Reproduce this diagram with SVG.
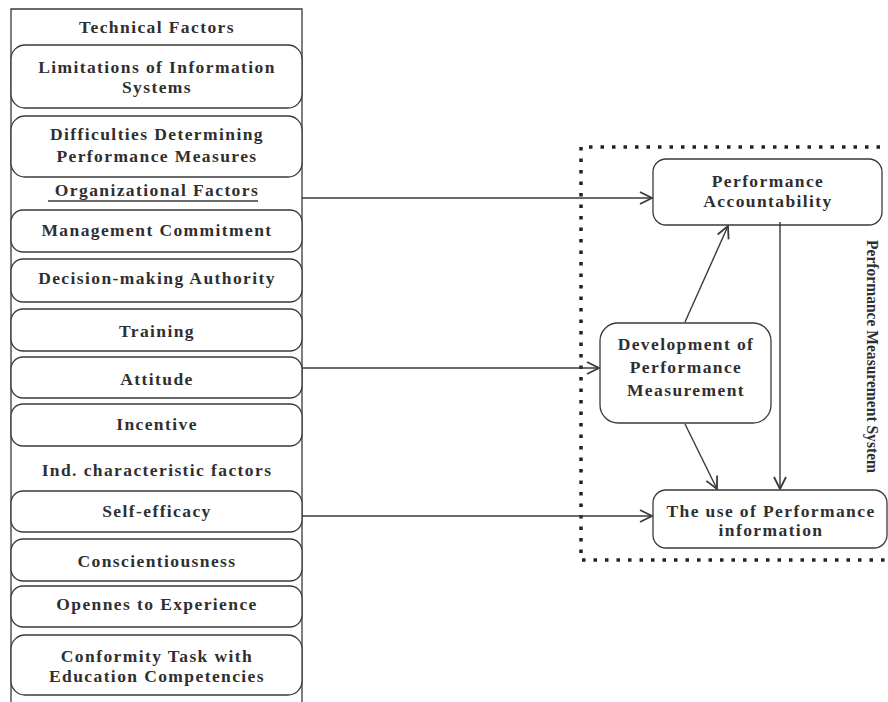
<svg xmlns="http://www.w3.org/2000/svg" width="888" height="702" viewBox="0 0 888 702">
<defs>
<marker id="arr" viewBox="0 0 14 14" refX="13" refY="7" markerWidth="14" markerHeight="14" markerUnits="userSpaceOnUse" orient="auto">
<path d="M1,1 L13,7 L1,13" fill="none" stroke="#3a3a3a" stroke-width="1.8"/>
</marker>
<style>
.box{fill:#fff;stroke:#3a3a3a;stroke-width:1.3}
.t{font-family:"Liberation Serif","Times New Roman",serif;font-weight:bold;font-size:17.5px;fill:#2f2f2f;text-anchor:middle;letter-spacing:1.4px}
.edge{stroke:#3a3a3a;stroke-width:1.4;fill:none;marker-end:url(#arr)}
.dots{stroke:#222;stroke-width:3.5;stroke-dasharray:3.5 8;fill:none}
</style>
</defs>
<rect x="0" y="0" width="888" height="702" fill="#fff"/>

<g id="left-panel">
<path d="M11,702 L11,9 L302,9 L302,702" fill="none" stroke="#3a3a3a" stroke-width="1.3"/>
<text class="t" x="157" y="33">Technical Factors</text>
</g>
<g id="n-limitations"><rect class="box" x="11" y="45" width="291" height="63" rx="14"/><text class="t" x="157" y="73">Limitations of Information</text><text class="t" x="157" y="93">Systems</text></g>
<g id="n-difficulties"><rect class="box" x="11" y="116" width="291" height="61" rx="14"/><text class="t" x="157" y="140">Difficulties Determining</text><text class="t" x="157" y="162">Performance Measures</text></g>
<g id="h-org"><text class="t" x="157" y="196">Organizational Factors</text><line x1="48" y1="201" x2="258" y2="201" stroke="#3a3a3a" stroke-width="1.3"/></g>
<g id="n-mgmt"><rect class="box" x="11" y="210" width="291" height="42" rx="12"/><text class="t" x="157" y="236">Management Commitment</text></g>
<g id="n-decision"><rect class="box" x="11" y="259" width="291" height="43" rx="12"/><text class="t" x="157" y="284">Decision-making Authority</text></g>
<g id="n-training"><rect class="box" x="11" y="309" width="291" height="42" rx="12"/><text class="t" x="157" y="337">Training</text></g>
<g id="n-attitude"><rect class="box" x="11" y="357" width="291" height="41" rx="12"/><text class="t" x="157" y="385">Attitude</text></g>
<g id="n-incentive"><rect class="box" x="11" y="404" width="291" height="42" rx="12"/><text class="t" x="157" y="430">Incentive</text></g>
<g id="h-ind"><text class="t" x="157" y="476">Ind. characteristic factors</text></g>
<g id="n-selfefficacy"><rect class="box" x="11" y="491" width="291" height="41" rx="12"/><text class="t" x="157" y="517">Self-efficacy</text></g>
<g id="n-conscientiousness"><rect class="box" x="11" y="539" width="291" height="42" rx="12"/><text class="t" x="157" y="567">Conscientiousness</text></g>
<g id="n-openness"><rect class="box" x="11" y="586" width="291" height="41" rx="12"/><text class="t" x="157" y="610">Opennes to Experience</text></g>
<g id="n-conformity"><rect class="box" x="11" y="635" width="291" height="60" rx="14"/><text class="t" x="157" y="662">Conformity Task with</text><text class="t" x="157" y="682">Education Competencies</text></g>

<g id="pms-frame">
<path class="dots" d="M880,147 L581,147 L581,560 L886,560"/>
<text x="0" y="0" transform="translate(867,240) rotate(90)" font-family="'Liberation Serif','Times New Roman',serif" font-weight="bold" font-size="16" fill="#2f2f2f" textLength="233" lengthAdjust="spacingAndGlyphs">Performance Measurement System</text>
</g>
<g id="n-accountability"><rect class="box" x="653" y="159" width="229" height="66" rx="13"/><text class="t" x="768" y="187">Performance</text><text class="t" x="768" y="207">Accountability</text></g>
<g id="n-development"><rect class="box" x="600" y="323" width="171" height="100" rx="18"/><text class="t" x="686" y="350">Development of</text><text class="t" x="686" y="373">Performance</text><text class="t" x="686" y="396">Measurement</text></g>
<g id="n-use"><rect class="box" x="653" y="490" width="234" height="58" rx="13"/><text class="t" x="771" y="517">The use of Performance</text><text class="t" x="771" y="536">information</text></g>

<g id="connectors">
<line class="edge" x1="302" y1="198" x2="652" y2="198"/>
<line class="edge" x1="302" y1="368" x2="599" y2="368"/>
<line class="edge" x1="302" y1="516" x2="652" y2="516"/>
<line class="edge" x1="685" y1="322" x2="728" y2="226"/>
<line class="edge" x1="685" y1="424" x2="717" y2="489"/>
<line class="edge" x1="780" y1="222" x2="780" y2="489"/>
</g>
</svg>
